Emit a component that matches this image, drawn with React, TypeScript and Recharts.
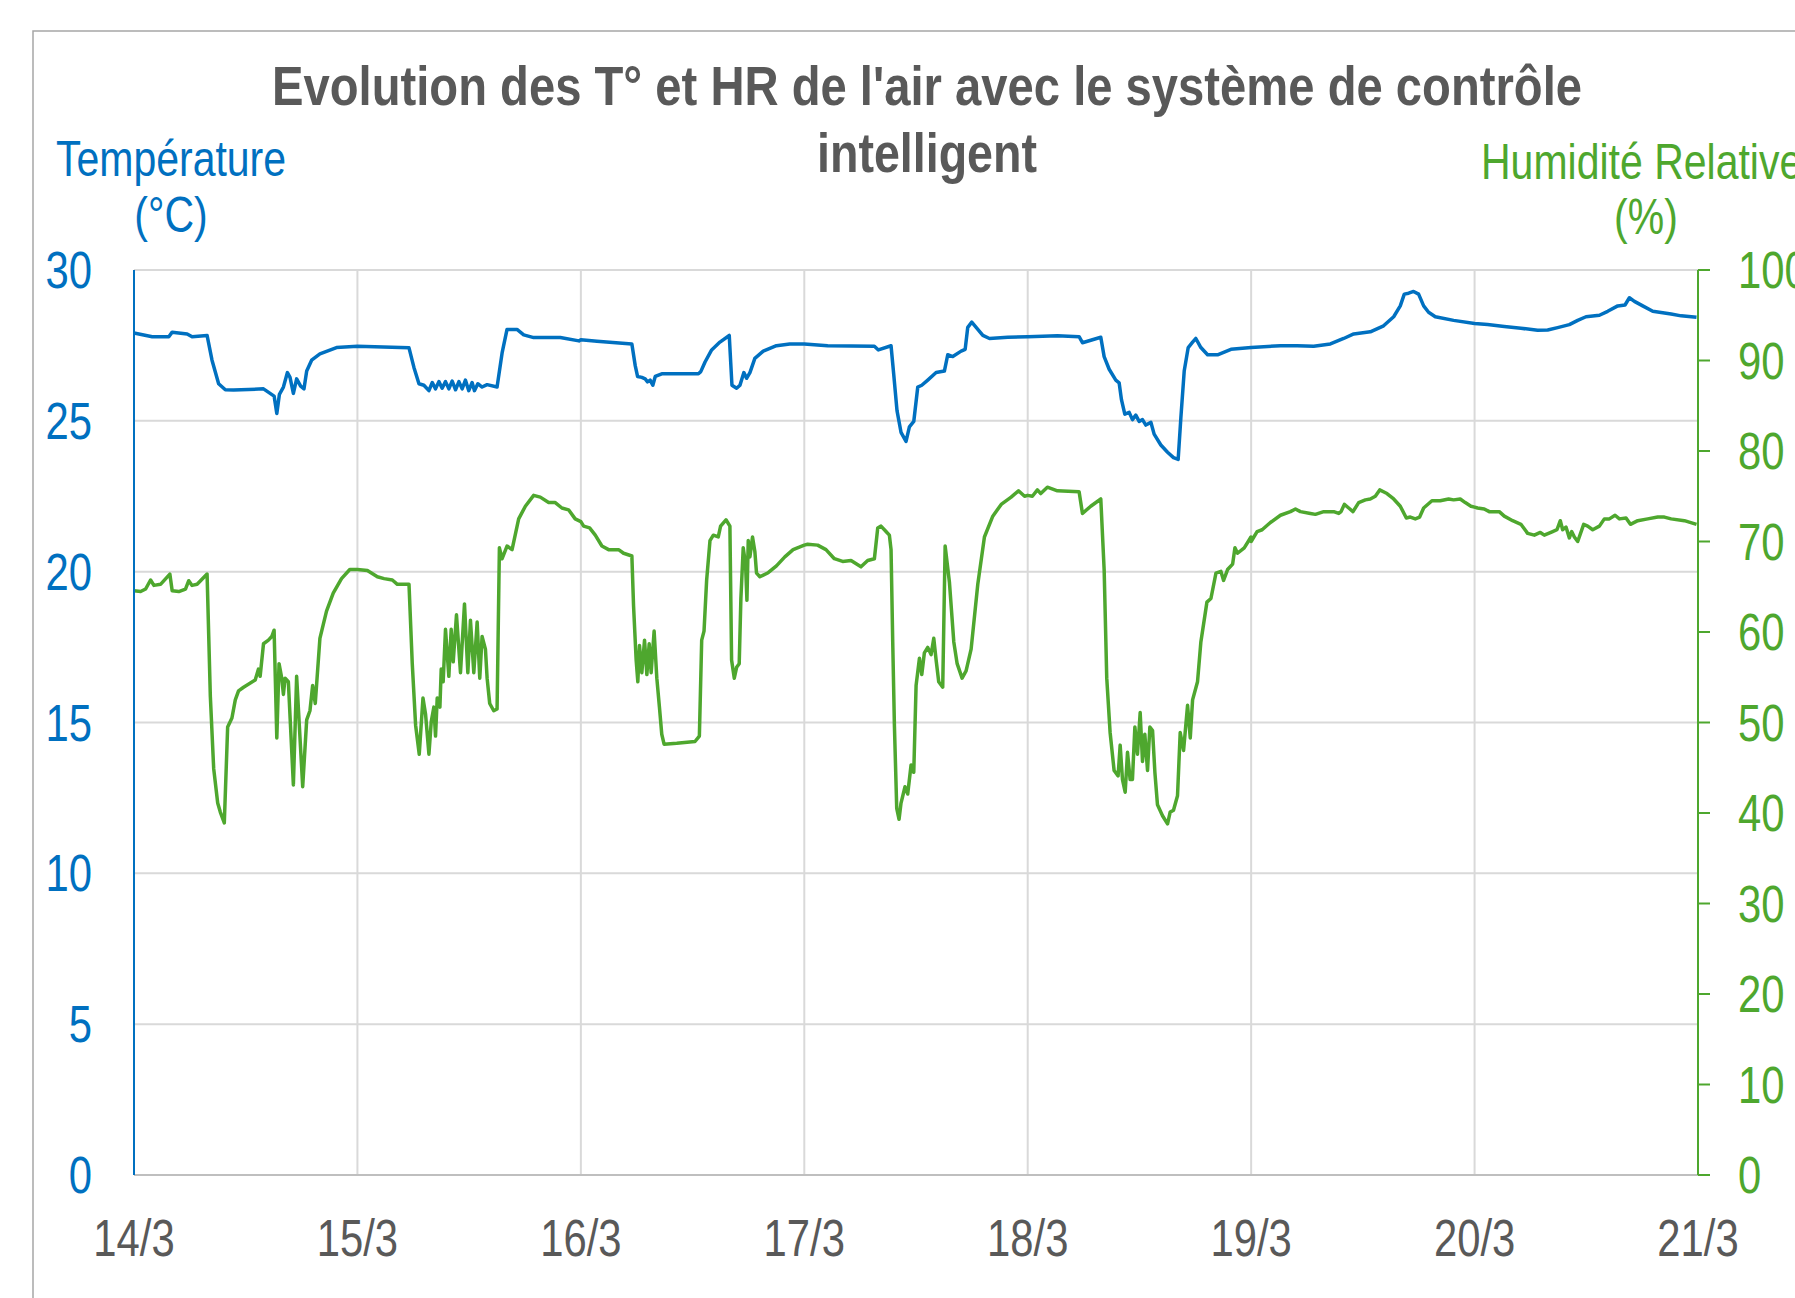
import { LineChart, Line, XAxis, YAxis, CartesianGrid } from 'recharts'

// Jours affichés sur l'axe des X (une graduation toutes les 24 h)
const dayLabels = ['14/3', '15/3', '16/3', '17/3', '18/3', '19/3', '20/3', '21/3']
const dayTicks = [0, 24, 48, 72, 96, 120, 144, 168]
const tempTicks = [0, 5, 10, 15, 20, 25, 30]
const humTicks = [0, 10, 20, 30, 40, 50, 60, 70, 80, 90, 100]

// [heure dans la journée, température °C]
const temp14 = [[0, 27.91], [1.96, 27.79], [3.74, 27.79], [4.1, 27.94], [5.71, 27.88], [6.24, 27.79], [7.85, 27.83], [8.38, 27.01], [9.09, 26.23], [9.81, 26.03], [10.7, 26.02], [13.91, 26.06], [14.62, 25.91], [15.05, 25.82], [15.34, 25.24], [15.62, 25.88], [16.05, 26.12], [16.48, 26.6], [16.76, 26.44], [17.12, 25.91], [17.47, 26.39], [17.9, 26.15], [18.26, 26.06], [18.55, 26.65], [19.08, 27.01], [19.97, 27.22], [21.75, 27.43]]
const temp15 = [[0, 27.47], [5.54, 27.42], [6.07, 26.77], [6.61, 26.23], [7.14, 26.18], [7.68, 26.0], [8.04, 26.27], [8.39, 26.06], [8.75, 26.3], [9.1, 26.08], [9.46, 26.3], [9.82, 26.06], [10.18, 26.32], [10.54, 26.03], [10.9, 26.3], [11.25, 26.06], [11.6, 26.35], [11.96, 26.0], [12.32, 26.27], [12.57, 26.0], [12.93, 26.23], [13.39, 26.12], [13.93, 26.2], [15.0, 26.12], [15.54, 27.25], [16.07, 28.03], [17.14, 28.03], [17.86, 27.85], [18.93, 27.76], [21.79, 27.76], [23.79, 27.65]]
const temp16 = [[0, 27.69], [1.73, 27.64], [5.48, 27.55], [5.84, 26.83], [6.09, 26.47], [6.55, 26.44], [6.91, 26.39], [7.16, 26.29], [7.44, 26.35], [7.73, 26.18], [7.99, 26.47], [8.69, 26.56], [12.63, 26.56], [12.88, 26.63], [13.34, 26.95], [14.05, 27.35], [14.94, 27.61], [15.94, 27.83], [16.23, 26.18], [16.73, 26.08], [17.09, 26.18], [17.51, 26.6], [17.8, 26.41], [18.16, 26.6], [18.69, 27.07], [19.59, 27.31], [21.01, 27.49], [22.44, 27.55]]
const temp17 = [[0, 27.55], [2.51, 27.49], [7.53, 27.47], [7.96, 27.35], [9.32, 27.49], [9.61, 26.53], [9.96, 25.34], [10.39, 24.62], [10.93, 24.32], [11.29, 24.8], [11.76, 24.98], [12.19, 26.12], [12.62, 26.18], [13.26, 26.35], [14.16, 26.6], [15.05, 26.65], [15.41, 27.19], [15.95, 27.13], [16.85, 27.31], [17.28, 27.37], [17.56, 28.1], [17.99, 28.27], [18.46, 28.1], [19.18, 27.83], [19.89, 27.73], [21.86, 27.77]]
const temp18 = [[0, 27.79], [3.19, 27.82], [5.52, 27.79], [5.88, 27.59], [7.85, 27.77], [8.21, 27.13], [8.75, 26.71], [9.46, 26.35], [9.82, 26.26], [10.07, 25.7], [10.43, 25.22], [10.9, 25.28], [11.25, 25.04], [11.61, 25.19], [11.97, 24.98], [12.33, 25.04], [12.69, 24.86], [13.23, 24.95], [13.58, 24.56], [14.3, 24.2], [15.02, 23.96], [15.66, 23.78], [16.16, 23.72], [16.45, 25.1], [16.81, 26.65], [17.24, 27.43], [17.71, 27.61], [18.06, 27.73], [18.6, 27.43], [19.32, 27.19], [20.39, 27.19], [21.83, 27.37]]
const temp19 = [[0, 27.43], [3.15, 27.49], [4.94, 27.49], [6.72, 27.47], [8.51, 27.55], [9.94, 27.73], [11.02, 27.88], [12.8, 27.95], [14.23, 28.15], [15.31, 28.45], [16.02, 28.81], [16.45, 29.2], [16.92, 29.23], [17.45, 29.29], [17.99, 29.2], [18.53, 28.81], [19.06, 28.6], [19.78, 28.45], [21.75, 28.33]]
const temp20 = [[0, 28.23], [1.4, 28.19], [3.19, 28.13], [4.98, 28.07], [6.77, 28.0], [7.85, 28.01], [8.92, 28.09], [10.18, 28.19], [11.08, 28.33], [11.97, 28.45], [13.41, 28.5], [14.3, 28.63], [15.38, 28.81], [16.16, 28.84], [16.63, 29.08], [17.17, 28.96], [18.06, 28.81], [19.14, 28.63], [21.11, 28.54], [22.19, 28.48], [23.84, 28.43]]

// [heure dans la journée, humidité relative %]
const hum14 = [[0, 64.55], [0.71, 64.47], [1.25, 64.75], [1.78, 65.75], [2.14, 65.15], [2.85, 65.27], [3.85, 66.4], [4.1, 64.55], [4.81, 64.47], [5.53, 64.75], [5.88, 65.67], [6.24, 65.15], [6.78, 65.27], [7.85, 66.4], [8.2, 52.9], [8.56, 44.9], [8.99, 41.1], [9.27, 40.1], [9.7, 38.9], [10.06, 49.5], [10.52, 50.5], [10.88, 52.5], [11.23, 53.5], [11.77, 53.9], [13.02, 54.7], [13.37, 55.9], [13.55, 55.1], [13.91, 58.7], [14.44, 59.1], [14.8, 59.5], [15.05, 60.2], [15.34, 48.3], [15.58, 56.5], [15.87, 54.9], [16.05, 53.1], [16.23, 54.9], [16.58, 54.5], [17.12, 43.1], [17.47, 55.1], [18.12, 42.9], [18.55, 50.3], [18.9, 51.3], [19.19, 54.1], [19.47, 52.1], [19.97, 59.3], [20.68, 62.3], [21.4, 64.3], [22.29, 65.9], [23.18, 66.9]]
const hum15 = [[0, 66.9], [1.07, 66.8], [2.14, 66.1], [2.86, 65.9], [3.75, 65.75], [4.29, 65.27], [5.54, 65.27], [5.89, 56.5], [6.25, 49.7], [6.64, 46.5], [7.04, 52.7], [7.32, 50.9], [7.68, 46.5], [7.93, 50.1], [8.21, 51.7], [8.39, 48.5], [8.57, 52.7], [8.86, 51.7], [9.0, 55.9], [9.21, 54.5], [9.46, 60.3], [9.82, 55.1], [10.07, 60.3], [10.29, 56.7], [10.64, 61.9], [11.07, 55.5], [11.5, 63.1], [11.86, 55.5], [12.14, 61.3], [12.5, 55.5], [12.86, 61.1], [13.14, 54.9], [13.39, 59.5], [13.75, 58.1], [13.93, 54.9], [14.21, 52.1], [14.64, 51.3], [15.0, 51.5], [15.25, 69.3], [15.54, 68.1], [16.07, 69.5], [16.61, 69.1], [17.32, 72.5], [18.04, 73.9], [18.93, 75.1], [19.64, 74.9], [20.54, 74.3], [21.25, 74.3], [21.96, 73.7], [22.68, 73.5], [23.39, 72.5]]
const hum16 = [[0, 72.2], [0.3, 71.7], [0.94, 71.5], [1.55, 70.7], [2.26, 69.5], [2.98, 69.1], [4.05, 69.1], [4.59, 68.7], [5.48, 68.4], [5.66, 62.9], [5.94, 56.9], [6.12, 54.5], [6.3, 58.5], [6.55, 55.5], [6.84, 59.1], [7.09, 55.3], [7.34, 58.7], [7.55, 55.5], [7.87, 60.1], [8.16, 54.9], [8.44, 51.7], [8.69, 48.7], [8.94, 47.6], [10.3, 47.7], [12.26, 47.9], [12.73, 48.5], [12.98, 59.1], [13.23, 60.1], [13.51, 65.7], [13.87, 70.1], [14.23, 70.7], [14.76, 70.5], [15.01, 71.7], [15.59, 72.4], [16.01, 71.7], [16.19, 56.9], [16.48, 54.9], [16.73, 56.1], [17.01, 56.5], [17.19, 63.7], [17.44, 69.3], [17.69, 67.5], [17.84, 63.5], [17.98, 70.1], [18.16, 68.3], [18.44, 70.5], [18.69, 68.9], [18.87, 66.5], [19.23, 66.1], [20.12, 66.55], [21.01, 67.3], [21.91, 68.3], [22.8, 69.1]]
const hum17 = [[0, 69.6], [0.36, 69.7], [1.43, 69.6], [2.33, 69.1], [3.23, 68.1], [4.12, 67.8], [5.02, 67.9], [6.09, 67.2], [6.81, 67.9], [7.53, 68.1], [7.89, 71.5], [8.24, 71.7], [8.78, 71.1], [9.14, 70.7], [9.32, 69.1], [9.5, 58.9], [9.68, 49.7], [9.93, 40.5], [10.18, 39.3], [10.39, 41.1], [10.82, 42.9], [11.11, 42.1], [11.47, 45.3], [11.76, 44.5], [12.01, 54.1], [12.37, 57.1], [12.62, 55.3], [12.9, 57.7], [13.26, 58.3], [13.62, 57.5], [13.91, 59.3], [14.16, 56.9], [14.44, 54.5], [14.87, 53.9], [15.13, 69.5], [15.59, 65.5], [16.06, 58.9], [16.42, 56.5], [16.95, 54.9], [17.38, 55.7], [17.92, 58.1], [18.64, 65.3], [19.35, 70.5], [20.25, 72.8], [21.15, 74.1], [22.22, 74.9], [23.01, 75.6], [23.66, 75.0]]
const hum18 = [[0, 75.1], [0.5, 75.0], [1.04, 75.7], [1.4, 75.3], [2.11, 76.0], [3.19, 75.6], [5.52, 75.5], [5.88, 73.1], [6.77, 73.9], [7.85, 74.7], [8.21, 66.9], [8.49, 54.9], [8.85, 48.9], [9.28, 44.7], [9.71, 44.1], [9.93, 47.5], [10.18, 43.7], [10.47, 42.3], [10.72, 46.7], [11.0, 43.7], [11.25, 43.7], [11.51, 49.5], [11.79, 46.5], [12.08, 51.1], [12.33, 45.7], [12.58, 48.7], [12.87, 44.7], [13.12, 49.5], [13.41, 49.1], [13.66, 44.5], [13.94, 40.9], [14.48, 39.7], [15.02, 38.8], [15.3, 40.1], [15.66, 40.3], [16.09, 41.9], [16.38, 48.9], [16.74, 46.9], [17.17, 51.9], [17.46, 48.3], [17.71, 52.5], [18.24, 54.5], [18.6, 58.9], [19.25, 63.3], [19.68, 63.7], [20.22, 66.5], [20.75, 66.7], [21.04, 65.7], [21.47, 66.9], [22.01, 67.5], [22.26, 69.3], [22.54, 68.7], [23.26, 69.3], [23.98, 70.5]]
const hum19 = [[0, 70.0], [0.64, 71.1], [1.18, 71.3], [2.07, 72.1], [3.15, 72.9], [4.22, 73.3], [4.76, 73.6], [5.29, 73.3], [6.37, 73.1], [6.9, 73.0], [7.8, 73.3], [8.87, 73.3], [9.41, 73.1], [9.66, 73.3], [10.01, 74.1], [10.48, 73.7], [10.94, 73.3], [11.55, 74.3], [12.27, 74.6], [12.8, 74.7], [13.34, 75.0], [13.81, 75.7], [14.59, 75.3], [15.31, 74.7], [16.02, 73.9], [16.67, 72.6], [17.1, 72.7], [17.63, 72.5], [18.1, 72.7], [18.53, 73.7], [19.42, 74.5], [20.31, 74.5], [21.21, 74.7], [21.75, 74.6], [22.46, 74.7], [23.0, 74.3], [23.61, 73.9]]
const hum20 = [[0, 73.8], [0.32, 73.7], [1.04, 73.6], [1.58, 73.3], [2.65, 73.3], [3.19, 72.8], [4.09, 72.3], [4.98, 71.9], [5.7, 70.9], [6.42, 70.7], [7.06, 71.0], [7.49, 70.7], [8.39, 71.1], [8.85, 71.3], [9.21, 72.3], [9.46, 71.3], [9.82, 71.6], [10.18, 70.4], [10.43, 71.1], [10.72, 70.5], [11.08, 70.0], [11.72, 71.9], [12.15, 71.7], [12.69, 71.3], [13.41, 71.7], [13.94, 72.5], [14.48, 72.5], [15.09, 72.9], [15.56, 72.5], [16.27, 72.6], [16.74, 71.9], [17.53, 72.3], [18.6, 72.5], [19.68, 72.7], [20.39, 72.7], [21.11, 72.5], [22.54, 72.3], [23.84, 71.9]]

function byDay(days: number[][][]) {
  return days.flatMap((d, i) => d.map(([h, v]) => ({ h: i * 24 + h, v })))
}

const tempData = byDay([temp14, temp15, temp16, temp17, temp18, temp19, temp20])
const humData = byDay([hum14, hum15, hum16, hum17, hum18, hum19, hum20])

const BLUE = '#0070C0'
const GREEN = '#4EA72E'
const GREY = '#595959'
const FONT = '"Liberation Sans", Arial, sans-serif'
const NARROW = 0.82

function NarrowText({ x, y, anchor = 'start', size, fill, children }: {
  x: number; y: number; anchor?: string; size: number; fill: string; children: any
}) {
  return (
    <text
      transform={`translate(${x},${y}) scale(${NARROW},1)`}
      textAnchor={anchor as any}
      fontSize={size}
      fill={fill}
      fontFamily={FONT}
    >
      {children}
    </text>
  )
}

function LeftTick({ y, payload }: any) {
  return <NarrowText x={92} y={y + 18} anchor="end" size={51} fill={BLUE}>{payload.value}</NarrowText>
}

function RightTick({ y, payload }: any) {
  return <NarrowText x={1738} y={y + 18} size={51} fill={GREEN}>{payload.value}</NarrowText>
}

function DayTick({ x, payload }: any) {
  return (
    <NarrowText x={x} y={1256} anchor="middle" size={51} fill={GREY}>
      {dayLabels[Math.round(payload.value / 24)]}
    </NarrowText>
  )
}

export default function App() {
  return (
    <div style={{ position: 'absolute', left: 0, top: 0, width: 1795, height: 1298, background: '#fff' }}>
      <LineChart width={1795} height={1298} margin={{ top: 270, right: 37, bottom: 63, left: 74 }}>
        <CartesianGrid yAxisId="t" stroke="#D9D9D9" strokeWidth={2} />
        <XAxis
          type="number"
          dataKey="h"
          domain={[0, 168]}
          ticks={dayTicks}
          interval={0}
          height={60}
          axisLine={{ stroke: '#BFBFBF', strokeWidth: 2 }}
          tickLine={false}
          tick={<DayTick />}
        />
        <YAxis
          yAxisId="t"
          orientation="left"
          domain={[0, 30]}
          ticks={tempTicks}
          width={60}
          axisLine={{ stroke: BLUE, strokeWidth: 2 }}
          tickLine={false}
          tick={<LeftTick />}
        />
        <YAxis
          yAxisId="h"
          orientation="right"
          domain={[0, 100]}
          ticks={humTicks}
          width={60}
          axisLine={{ stroke: GREEN, strokeWidth: 2 }}
          tickLine={{ stroke: GREEN, strokeWidth: 2 }}
          tickSize={12}
          tick={<RightTick />}
        />
        <Line
          yAxisId="h"
          data={humData}
          dataKey="v"
          type="linear"
          stroke={GREEN}
          strokeWidth={3.5}
          strokeLinejoin="round"
          dot={false}
          activeDot={false}
          isAnimationActive={false}
        />
        <Line
          yAxisId="t"
          data={tempData}
          dataKey="v"
          type="linear"
          stroke={BLUE}
          strokeWidth={3.5}
          strokeLinejoin="round"
          dot={false}
          activeDot={false}
          isAnimationActive={false}
        />
      </LineChart>

      <svg
        width={1795}
        height={1298}
        style={{ position: 'absolute', left: 0, top: 0, pointerEvents: 'none' }}
      >
        <rect x={33} y={31} width={2000} height={2000} fill="none" stroke="#A6A6A6" strokeWidth={1.5} />
        <text
          x={272} y={105}
          textLength={1310} lengthAdjust="spacingAndGlyphs"
          fontSize={56} fontWeight="bold" fill={GREY} fontFamily={FONT}
        >
          Evolution des T° et HR de l'air avec le système de contrôle
        </text>
        <text
          x={817} y={172}
          textLength={220} lengthAdjust="spacingAndGlyphs"
          fontSize={56} fontWeight="bold" fill={GREY} fontFamily={FONT}
        >
          intelligent
        </text>
        <NarrowText x={171} y={176} anchor="middle" size={50} fill={BLUE}>Température</NarrowText>
        <NarrowText x={171} y={232} anchor="middle" size={50} fill={BLUE}>(°C)</NarrowText>
        <NarrowText x={1481} y={179} size={50} fill={GREEN}>Humidité Relative</NarrowText>
        <NarrowText x={1646} y={234} anchor="middle" size={50} fill={GREEN}>(%)</NarrowText>
      </svg>
    </div>
  )
}
